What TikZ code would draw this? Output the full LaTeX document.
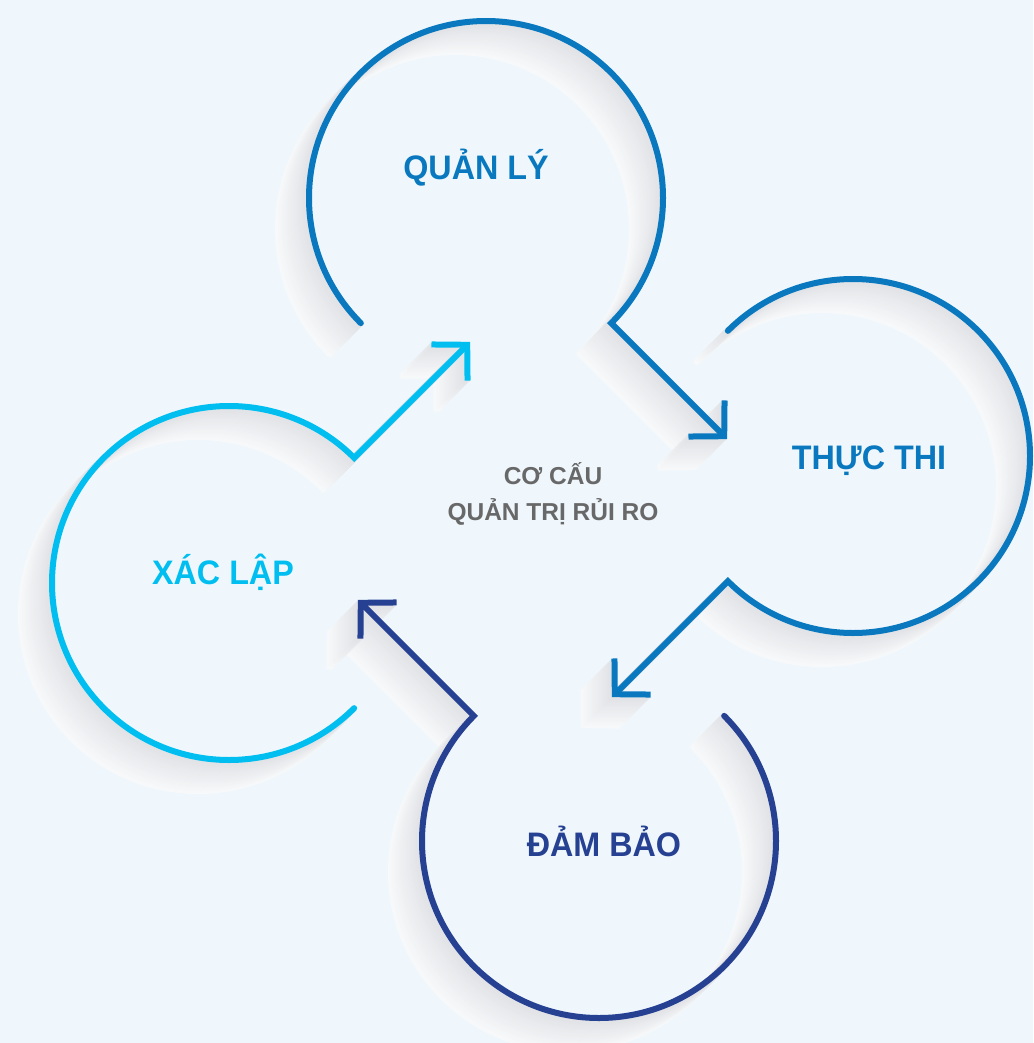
\documentclass[tikz,border=0pt]{standalone}
\usepackage{fontspec}
\setmainfont{Liberation Sans}
\newfontfamily\phasefont[FakeStretch=0.95]{Liberation Sans}
\usetikzlibrary{arrows.meta}

\definecolor{bgblue}{RGB}{239,247,253}
\definecolor{quanblue}{RGB}{9,120,190}
\definecolor{lapcyan}{RGB}{0,191,240}
\definecolor{baonavy}{RGB}{38,64,146}
\definecolor{coregray}{RGB}{104,104,104}
\definecolor{shadownear}{RGB}{225,227,231}
\definecolor{shadowfar}{RGB}{248,249,250}

\begin{document}
\begin{tikzpicture}[x=1pt, y=1pt,
    ring/.style={line width=6pt, line cap=round, line join=miter,
        -{Straight Barb[length=25pt, width=51pt]}},
    phase/.style={font=\phasefont\bfseries\fontsize{34}{40}\selectfont,
        anchor=base, inner sep=0pt},
    core/.style={font=\bfseries\fontsize{24.5}{35.5}\selectfont,
        align=center, inner sep=0pt, text=coregray}]

    % Background
    \fill[bgblue] (0,0) rectangle (1033,-1043);
    \useasboundingbox (0,0) rectangle (1033,-1043);

    % Circle centres
    \coordinate (ql) at (486,-198);
    \coordinate (tt) at (853,-456);
    \coordinate (db) at (599,-841);
    \coordinate (xl) at (229,-583);

    % Soft shadows, far to near
    \foreach \c/\a/\dx/\dy in {ql/225/116/-116, tt/135/-116/-116,
                               db/45/-116/116, xl/-45/116/116} {
        \foreach \s in {31,30,...,1} {
            \pgfmathtruncatemacro\t{100*(31-\s)/30}
            \draw[ring, shadownear!\t!shadowfar]
                ([shift={(-\s,-\s)}]\c) ++(\a:177)
                arc[start angle=\a, delta angle=-270, radius=177] -- ++(\dx,\dy);
        }
    }

    % Open circles with arrows
    \draw[ring, quanblue] (ql) ++(225:177)
        arc[start angle=225, delta angle=-270, radius=177] -- ++(116,-116);
    \draw[ring, quanblue] (tt) ++(135:177)
        arc[start angle=135, delta angle=-270, radius=177] -- ++(-116,-116);
    \draw[ring, baonavy] (db) ++(45:177)
        arc[start angle=45, delta angle=-270, radius=177] -- ++(-116,116);
    \draw[ring, lapcyan] (xl) ++(-45:177)
        arc[start angle=-45, delta angle=-270, radius=177] -- ++(116,116);

    % Labels
    \node[phase, quanblue] (quanly) at (476,-179) {QUẢN LÝ};
    \node[phase, quanblue] (thucthi) at (869,-469) {THỰC THI};
    \node[phase, baonavy] (dambao) at (604,-856) {ĐẢM BẢO};
    \node[phase, lapcyan] (xaclap) at (223,-584) {XÁC LẬP};
    \node[core] (cocau) at (553,-494) {CƠ CẤU\\QUẢN TRỊ RỦI RO};

\end{tikzpicture}
\end{document}
